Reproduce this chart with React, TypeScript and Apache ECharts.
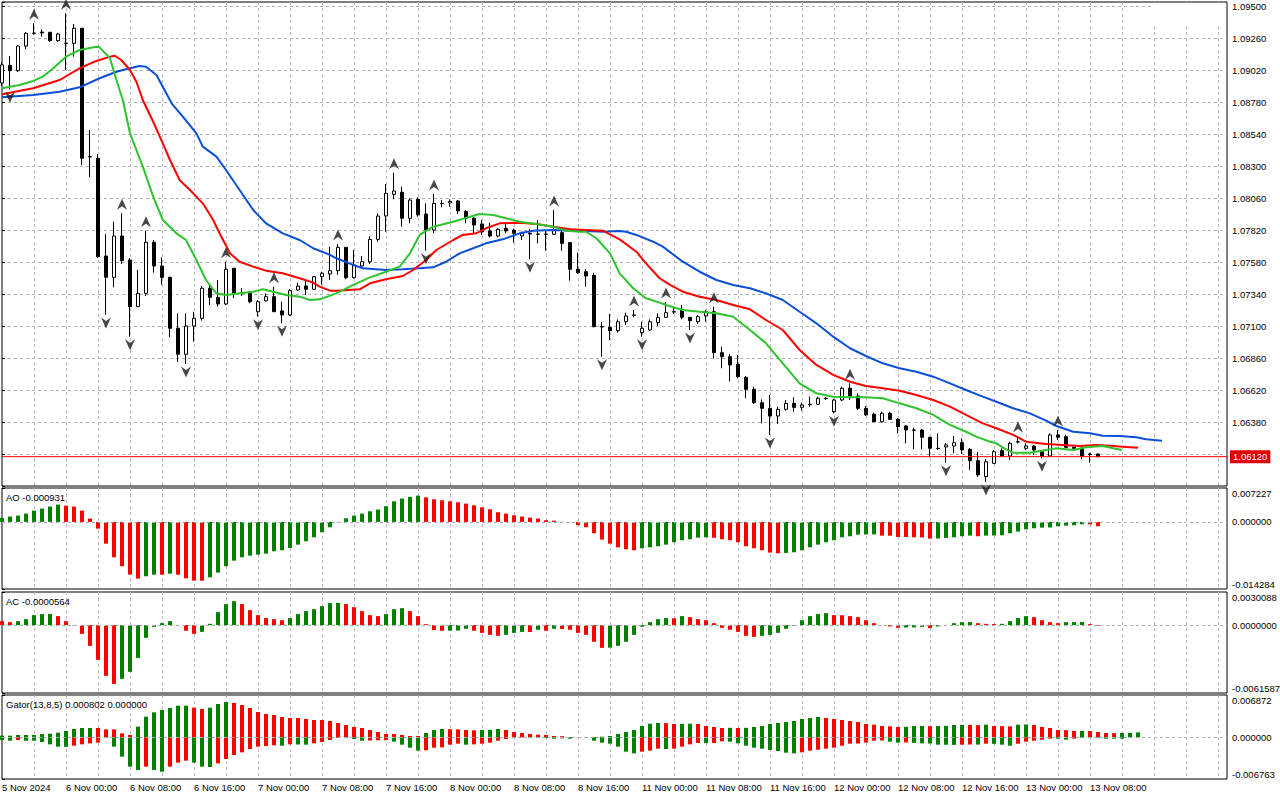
import React, { useEffect, useRef } from 'react';
import * as echarts from 'echarts';

// ---------- axes / scales ----------
const priceMin = 1.059;
const priceMax = 1.0953;
const priceStep = 0.0024;
const lastPrice = 1.0612;
const barMin = 0;
const barMax = 153.125;
const barGridStep = 4;

const timeTickPos = [0, 8, 16, 24, 32, 40, 48, 56, 64, 72, 80, 88, 96, 104, 112, 120, 128, 136];
const timeTickLabels = [
  '5 Nov 2024', '6 Nov 00:00', '6 Nov 08:00', '6 Nov 16:00', '7 Nov 00:00', '7 Nov 08:00',
  '7 Nov 16:00', '8 Nov 00:00', '8 Nov 08:00', '8 Nov 16:00', '11 Nov 00:00', '11 Nov 08:00',
  '11 Nov 16:00', '12 Nov 00:00', '12 Nov 08:00', '12 Nov 16:00', '13 Nov 00:00', '13 Nov 08:00',
];

const aoRange = [-0.014284, 0.007227];
const acRange = [-0.0061587, 0.0030088];
const gatorRange = [-0.006763, 0.006872];

// ---------- candles (EURUSD H1) ----------
const opens = [
  1.08923, 1.09055, 1.09015, 1.092, 1.09295, 1.09305, 1.09303, 1.0924, 1.0922, 1.0922,
  1.09333, 1.0837, 1.08358, 1.07625, 1.07465, 1.07775, 1.07595, 1.07245, 1.07345, 1.07728,
  1.0755, 1.07465, 1.07083, 1.06888, 1.071, 1.07158, 1.07383, 1.07315, 1.07265, 1.07533,
  1.0735, 1.07345, 1.07207, 1.07288, 1.0732, 1.07213, 1.07183, 1.0737, 1.074, 1.07375,
  1.0747, 1.0749, 1.07515, 1.0769, 1.07462, 1.0755, 1.07582, 1.0775, 1.07925, 1.08088,
  1.08103, 1.07908, 1.0805, 1.0794, 1.0782, 1.0802, 1.08023, 1.08038, 1.07958, 1.07908,
  1.07865, 1.07813, 1.07775, 1.07833, 1.0782, 1.07775, 1.07795, 1.0779, 1.0779, 1.07788,
  1.078, 1.07725, 1.07525, 1.07507, 1.0748, 1.07095, 1.0709, 1.07065, 1.07132, 1.0718,
  1.0705, 1.0707, 1.07125, 1.07165, 1.07205, 1.0722, 1.07165, 1.07132, 1.07175, 1.07207,
  1.069, 1.0687, 1.06813, 1.06715, 1.06625, 1.06525, 1.06483, 1.06425, 1.06475, 1.0652,
  1.0649, 1.06513, 1.06513, 1.06558, 1.06457, 1.06545, 1.06633, 1.06575, 1.06483, 1.06438,
  1.06382, 1.06445, 1.064, 1.0635, 1.0632, 1.0632, 1.06265, 1.06183, 1.06193, 1.062,
  1.06225, 1.06175, 1.0609, 1.0597, 1.0607, 1.06165, 1.06125, 1.0623, 1.06183, 1.062,
  1.06157, 1.06125, 1.06283, 1.0627, 1.0619, 1.06183, 1.0614, 1.0614,
];
const closes = [
  1.09058, 1.09015, 1.092, 1.09295, 1.09297, 1.09298, 1.0924, 1.0929, 1.09222, 1.09333,
  1.08358, 1.08368, 1.0762, 1.07465, 1.07775, 1.0759, 1.07245, 1.07345, 1.07728, 1.0755,
  1.07465, 1.07083, 1.06888, 1.071, 1.07158, 1.07383, 1.07315, 1.07265, 1.07525, 1.07345,
  1.07345, 1.07282, 1.07282, 1.0732, 1.07207, 1.07183, 1.07365, 1.074, 1.07375, 1.0747,
  1.07495, 1.07515, 1.0769, 1.07462, 1.07558, 1.07582, 1.0775, 1.07925, 1.08095, 1.08113,
  1.07908, 1.08045, 1.07933, 1.0782, 1.0802, 1.08018, 1.08033, 1.07963, 1.07908, 1.07858,
  1.07807, 1.07775, 1.07825, 1.07813, 1.07795, 1.07795, 1.0779, 1.07788, 1.07788, 1.0782,
  1.0772, 1.07525, 1.075, 1.07475, 1.07095, 1.07093, 1.07065, 1.07132, 1.07175, 1.07183,
  1.07083, 1.07132, 1.07165, 1.072, 1.07207, 1.07165, 1.0714, 1.0717, 1.07207, 1.069,
  1.0687, 1.06808, 1.0672, 1.06625, 1.06525, 1.06483, 1.06425, 1.06475, 1.0652, 1.0649,
  1.06508, 1.0651, 1.06558, 1.06556, 1.06545, 1.06633, 1.06575, 1.06483, 1.06433, 1.06382,
  1.06445, 1.064, 1.06345, 1.0632, 1.06318, 1.06265, 1.06183, 1.06181, 1.06208, 1.06225,
  1.0617, 1.0609, 1.05983, 1.06082, 1.06157, 1.06125, 1.0622, 1.06232, 1.062, 1.0617,
  1.06125, 1.06283, 1.06265, 1.0619, 1.06183, 1.06125, 1.06135, 1.0612,
];
const highs = [
  1.0908, 1.09125, 1.09208, 1.09305, 1.0937, 1.09325, 1.09305, 1.09298, 1.09445, 1.09365,
  1.09335, 1.0857, 1.0839, 1.0779, 1.07882, 1.07945, 1.0761, 1.0752, 1.07815, 1.07745,
  1.07615, 1.0747, 1.07195, 1.07195, 1.07207, 1.074, 1.07408, 1.07445, 1.07582, 1.07535,
  1.07383, 1.07363, 1.07295, 1.07345, 1.07395, 1.07282, 1.07378, 1.07425, 1.0745, 1.07475,
  1.07507, 1.07695, 1.07715, 1.07693, 1.0767, 1.07625, 1.07775, 1.07945, 1.08165, 1.0825,
  1.08145, 1.08058, 1.08065, 1.0802, 1.0809, 1.08045, 1.0805, 1.08045, 1.0797, 1.07918,
  1.07895, 1.07875, 1.07833, 1.07865, 1.0783, 1.07808, 1.07825, 1.07895, 1.0782, 1.0797,
  1.07828, 1.0773, 1.0765, 1.07525, 1.075, 1.07132, 1.0719, 1.0715, 1.072, 1.0722,
  1.07132, 1.0715, 1.07195, 1.0728, 1.0724, 1.07258, 1.07168, 1.07183, 1.0722, 1.07245,
  1.06945, 1.0689, 1.06883, 1.06725, 1.06645, 1.0655, 1.06583, 1.06495, 1.06545, 1.06565,
  1.06525, 1.0657, 1.0657, 1.06568, 1.06553, 1.06645, 1.0667, 1.06595, 1.065, 1.0645,
  1.06457, 1.06457, 1.0641, 1.06358, 1.06337, 1.06328, 1.0627, 1.06295, 1.06223, 1.06275,
  1.06258, 1.06185, 1.06157, 1.06103, 1.0617, 1.06183, 1.06232, 1.06275, 1.0622, 1.06208,
  1.0617, 1.06295, 1.0632, 1.06283, 1.06195, 1.062, 1.0615, 1.06145,
];
const lows = [
  1.089, 1.08875, 1.09005, 1.09175, 1.09285, 1.0927, 1.0923, 1.0923, 1.0902, 1.0912,
  1.08308, 1.08215, 1.0761, 1.07183, 1.0739, 1.07565, 1.0702, 1.07243, 1.07325, 1.075,
  1.0741, 1.07015, 1.0683, 1.06815, 1.06982, 1.0714, 1.07258, 1.07245, 1.07258, 1.0731,
  1.07325, 1.0727, 1.0717, 1.07284, 1.07205, 1.0712, 1.07175, 1.07363, 1.07333, 1.0737,
  1.0741, 1.07445, 1.07483, 1.0745, 1.07458, 1.07545, 1.07565, 1.07732, 1.07807, 1.0805,
  1.07845, 1.0787, 1.0792, 1.07665, 1.07795, 1.0799, 1.07995, 1.0794, 1.0787, 1.07795,
  1.07783, 1.07765, 1.07765, 1.07795, 1.07725, 1.07745, 1.076, 1.0772, 1.07665, 1.07785,
  1.07665, 1.0744, 1.0749, 1.07395, 1.0709, 1.0687, 1.06995, 1.0705, 1.07108, 1.07165,
  1.0702, 1.07063, 1.071, 1.0716, 1.0719, 1.0715, 1.0707, 1.07115, 1.07132, 1.06858,
  1.06783, 1.06683, 1.06708, 1.06558, 1.06515, 1.0637, 1.06283, 1.06365, 1.06465, 1.06457,
  1.06465, 1.06495, 1.06508, 1.06545, 1.06445, 1.06538, 1.06545, 1.0647, 1.06425, 1.0638,
  1.06375, 1.06395, 1.06295, 1.0622, 1.06175, 1.06175, 1.06115, 1.0617, 1.06075, 1.06145,
  1.0614, 1.0602, 1.05968, 1.0593, 1.06065, 1.06118, 1.06095, 1.0622, 1.0617, 1.06133,
  1.06108, 1.0612, 1.06245, 1.06185, 1.0617, 1.061, 1.06075, 1.06115,
];

// ---------- Bill Williams fractals (bar indices) ----------
const fractalUp = [4, 8, 15, 18, 28, 34, 42, 49, 54, 69, 79, 83, 89, 106, 127, 132];
const fractalDown = [1, 13, 16, 23, 32, 35, 53, 66, 75, 80, 86, 96, 104, 118, 123, 130];

// ---------- Alligator lines [bar position, price] ----------
const jawLine = [
  [0, 1.08815], [3.9, 1.08833], [7.2, 1.08857], [9.7, 1.0889], [12.2, 1.08958], [14.3, 1.09007],
  [16.0, 1.09033], [17.2, 1.0905], [18.0, 1.09045], [19.3, 1.08983], [20.1, 1.08895], [21.2, 1.0877],
  [22.6, 1.0867], [24.3, 1.08545], [25.1, 1.08445], [26.8, 1.0837], [28.0, 1.0827], [29.7, 1.0812],
  [31.4, 1.0797], [33.0, 1.0787], [35.1, 1.07795], [37.2, 1.07745], [38.9, 1.07683], [41.0, 1.07633],
  [41.8, 1.07608], [43.9, 1.07558], [45.1, 1.07533], [48.0, 1.0752], [50.1, 1.07525], [52.2, 1.07533],
  [53.9, 1.0754], [55.5, 1.07582], [57.2, 1.07645], [58.9, 1.07683], [60.5, 1.0772], [62.6, 1.0775],
  [64.7, 1.07795], [66.4, 1.07815], [68.9, 1.0782], [71.0, 1.07815], [73.0, 1.07813], [75.1, 1.07807],
  [77.2, 1.07813], [78.0, 1.07807], [79.3, 1.07783], [81.4, 1.07732], [82.6, 1.07695], [85.1, 1.07582],
  [87.2, 1.07507], [89.3, 1.07445], [91.4, 1.07408], [93.5, 1.07383], [95.5, 1.07345], [97.6, 1.07295],
  [99.7, 1.07207], [101.8, 1.0712], [103.9, 1.0702], [106.0, 1.06933], [108.0, 1.06875], [110.1, 1.0682],
  [112.2, 1.06783], [114.3, 1.06757], [116.4, 1.0672], [118.5, 1.0667], [120.5, 1.0662], [122.6, 1.0657],
  [124.3, 1.06532], [126.4, 1.06483], [128.5, 1.06445], [130.5, 1.0639], [131.8, 1.0635], [133.9, 1.06307],
  [136.0, 1.06295], [137.6, 1.06277], [139.7, 1.06275], [141.8, 1.06265], [143.0, 1.0625], [145.0, 1.0624],
];
const teethLine = [
  [0, 1.08838], [3.9, 1.08883], [7.2, 1.08945], [9.7, 1.09033], [11.8, 1.09088], [13.5, 1.0912],
  [14.1, 1.09127], [14.9, 1.09095], [16.0, 1.0902], [16.8, 1.08932], [17.6, 1.08795], [18.9, 1.08632],
  [20.1, 1.0847], [21.0, 1.08345], [22.2, 1.08195], [23.9, 1.08095], [25.1, 1.0802], [26.4, 1.07895],
  [27.2, 1.07795], [28.5, 1.07645], [29.7, 1.07582], [31.4, 1.07545], [33.0, 1.07515], [35.1, 1.07495],
  [37.2, 1.07458], [38.9, 1.07425], [39.7, 1.07395], [41.0, 1.07365], [41.8, 1.07365], [44.7, 1.07375],
  [46.0, 1.0742], [48.0, 1.0745], [50.1, 1.07475], [51.4, 1.0752], [53.0, 1.07595], [54.3, 1.0767],
  [56.4, 1.07745], [57.6, 1.07783], [59.3, 1.07795], [60.5, 1.07833], [62.2, 1.0787], [64.7, 1.07875],
  [66.8, 1.07865], [68.9, 1.07845], [71.0, 1.07825], [73.0, 1.0782], [75.1, 1.07815], [77.2, 1.0775],
  [79.3, 1.07657], [80.5, 1.0757], [82.2, 1.07458], [83.5, 1.07408], [85.1, 1.07357], [87.2, 1.0732],
  [89.3, 1.07295], [91.4, 1.07258], [93.5, 1.07225], [95.5, 1.07145], [97.6, 1.0707], [99.7, 1.0692],
  [101.8, 1.06808], [103.9, 1.06733], [106.0, 1.06682], [108.0, 1.0665], [110.1, 1.06633], [112.2, 1.06615],
  [114.3, 1.06583], [116.4, 1.06545], [118.5, 1.06495], [120.5, 1.06433], [122.6, 1.0637], [124.3, 1.06333],
  [126.4, 1.06283], [128.0, 1.06232], [130.5, 1.06215], [132.6, 1.06208], [134.7, 1.062], [136.8, 1.06208],
  [138.9, 1.062], [140.1, 1.06195], [142.0, 1.06187],
];
const lipsLine = [
  [0, 1.08883], [2.2, 1.08908], [3.9, 1.08938], [5.1, 1.0897], [6.4, 1.09033], [8.0, 1.0912],
  [9.7, 1.0917], [11.8, 1.09195], [12.2, 1.0919], [13.5, 1.09108], [14.3, 1.08945], [15.1, 1.08795],
  [16.0, 1.08545], [16.8, 1.0842], [17.6, 1.08295], [18.9, 1.0807], [20.1, 1.07895], [21.8, 1.07795],
  [23.0, 1.07745], [24.3, 1.07595], [25.5, 1.07445], [26.8, 1.07345], [28.0, 1.07333], [29.7, 1.07345],
  [31.4, 1.07357], [32.6, 1.07375], [33.9, 1.07357], [35.5, 1.07333], [37.2, 1.0732], [38.5, 1.07295],
  [39.7, 1.073], [41.8, 1.07345], [43.9, 1.07408], [46.0, 1.07465], [48.0, 1.07507], [49.7, 1.07545],
  [51.0, 1.07645], [52.2, 1.07783], [53.9, 1.07845], [56.4, 1.07882], [58.5, 1.0792], [59.7, 1.0794],
  [61.4, 1.07933], [63.0, 1.07908], [64.7, 1.07882], [66.8, 1.07865], [68.9, 1.07845], [70.5, 1.07815],
  [72.2, 1.07807], [73.0, 1.07807], [74.3, 1.07758], [76.0, 1.07645], [77.2, 1.07495], [78.9, 1.07383],
  [80.5, 1.07308], [82.2, 1.07275], [83.0, 1.07258], [85.1, 1.0722], [87.2, 1.07207], [89.3, 1.07195],
  [91.4, 1.0717], [93.5, 1.0707], [95.5, 1.0697], [97.6, 1.0682], [99.7, 1.0667], [101.8, 1.06595],
  [103.9, 1.0657], [106.0, 1.06565], [108.0, 1.06565], [110.1, 1.06558], [112.2, 1.0652], [114.3, 1.06483],
  [116.4, 1.06433], [118.5, 1.06358], [120.5, 1.06307], [121.8, 1.0627], [123.5, 1.06232], [124.3, 1.0622],
  [125.5, 1.06175], [126.4, 1.0615], [128.5, 1.0615], [130.5, 1.0617], [131.8, 1.06183], [133.9, 1.0617],
  [135.5, 1.0619], [137.6, 1.062], [138.9, 1.06183], [140.0, 1.0617],
];

// ---------- Awesome Oscillator ----------
const aoValues = [
  0.00085, 0.00114, 0.00135, 0.00178, 0.00241, 0.00284, 0.00327, 0.00369, 0.00348, 0.00327,
  0.00241, 0.00071, -0.00142, -0.00462, -0.00753, -0.00944, -0.01122, -0.01207, -0.01157, -0.01122,
  -0.01125, -0.01101, -0.01125, -0.012, -0.0125, -0.01252, -0.01179, -0.01079, -0.00944, -0.00824,
  -0.00753, -0.00717, -0.00696, -0.00675, -0.00625, -0.00604, -0.00554, -0.00483, -0.00412, -0.00327,
  -0.0022, -0.00114, -0.00007, 0.00078, 0.00135, 0.00178, 0.00227, 0.00263, 0.00334, 0.0044,
  0.00497, 0.00533, 0.00561, 0.00525, 0.00483, 0.00462, 0.0044, 0.00419, 0.0039, 0.00355,
  0.00312, 0.0027, 0.00206, 0.00178, 0.00142, 0.00114, 0.00092, 0.00071, 0.00036, 0.00028,
  0.00003, -0.00003, -0.00071, -0.00114, -0.00241, -0.00376, -0.00462, -0.0054, -0.00582, -0.00604,
  -0.00561, -0.0054, -0.00518, -0.00483, -0.00433, -0.0039, -0.00369, -0.00334, -0.00327, -0.00337,
  -0.00369, -0.0039, -0.00433, -0.00518, -0.00561, -0.00604, -0.00653, -0.00667, -0.0066, -0.00646,
  -0.00604, -0.0054, -0.00483, -0.00433, -0.0039, -0.00327, -0.00305, -0.0027, -0.00268, -0.00266,
  -0.00291, -0.00293, -0.0032, -0.00322, -0.00327, -0.0033, -0.00355, -0.00353, -0.00341, -0.00327,
  -0.00305, -0.00291, -0.00305, -0.00291, -0.00289, -0.00284, -0.00241, -0.00206, -0.00156, -0.00135,
  -0.00121, -0.00118, -0.00092, -0.00078, -0.00071, -0.0005, -0.00052, -0.000931,
];
const aoColors =
  'ggggggggrr' + 'rrrrrrrrgg' + 'rgrrrrgggg' + 'gggggggggg' + 'gggggggggg' + 'gggrrrrrrr' + 'rrrrrrrrrr' +
  'rrrrrrrrrr' + 'gggggggggr' + 'rrrrrrrrgg' + 'gggggggggg' + 'rrrrrrrggg' + 'ggrggggggg' + 'ggggggrr';

// ---------- Accelerator Oscillator ----------
const acValues = [
  0.00036, 0.00027, 0.00036, 0.00054, 0.00091, 0.001, 0.00101, 0.00082, 0.00036, -0.00003,
  -0.00079, -0.00188, -0.00315, -0.0046, -0.00533, -0.00487, -0.00424, -0.00297, -0.00115, -0.00015,
  0.00018, 0.00036, -0.00002, -0.00051, -0.00079, -0.00061, 0.00012, 0.00118, 0.00191, 0.00218,
  0.00191, 0.00136, 0.00091, 0.00064, 0.00054, 0.00045, 0.00064, 0.001, 0.00127, 0.00145,
  0.00172, 0.002, 0.00201, 0.00191, 0.00163, 0.00127, 0.00091, 0.00082, 0.001, 0.00145,
  0.00154, 0.00127, 0.00082, 0.00009, -0.00045, -0.00051, -0.0005, -0.00049, -0.00033, -0.00051,
  -0.0007, -0.00088, -0.00097, -0.00088, -0.0007, -0.00061, -0.00062, -0.00042, -0.00051, -0.00033,
  -0.00034, -0.00042, -0.0007, -0.00088, -0.00151, -0.00206, -0.00204, -0.00188, -0.00151, -0.00088,
  -0.00015, 0.00027, 0.00054, 0.00064, 0.00062, 0.00082, 0.00073, 0.00054, 0.00045, 0.00018,
  -0.00024, -0.00042, -0.00061, -0.00097, -0.00106, -0.00097, -0.00088, -0.0007, -0.00033, -0.00006,
  0.00045, 0.00082, 0.001, 0.00109, 0.00091, 0.0009, 0.00082, 0.00073, 0.00045, 0.00018,
  -0.00002, -0.00012, -0.00024, -0.00021, -0.0002, -0.00015, -0.00027, -0.00012, 0.00001, 0.00018,
  0.00027, 0.00028, 0.00018, 0.00012, 0.0001, 0.00012, 0.00036, 0.00064, 0.00082, 0.00073,
  0.00045, 0.00027, 0.00018, 0.00027, 0.00028, 0.00029, 0.00009, -0.0000564,
];
const acColors =
  'rrgggggrrr' + 'rrrrrggggg' + 'ggrrrggggg' + 'rrrrrrgggg' + 'gggrrrrrgg' + 'grrrrrgggr' + 'rrrgggrgrg' +
  'rrrrrrgggg' + 'ggggrgrrrr' + 'rrrrrggggg' + 'ggggrrrrrr' + 'rrrgggrggg' + 'ggrrrggggr' + 'rrrgggrr';

// ---------- Gator Oscillator (upper = |jaw-teeth|, lower = |teeth-lips|) ----------
const gatorUp = [
  0.000271, 0.000271, 0.000379, 0.000379, 0.000379, 0.000541, 0.000595, 0.000757, 0.001028, 0.001353,
  0.001515, 0.001515, 0.001515, 0.001298, 0.001298, 0.000649, 0.000379, 0.001731, 0.003354, 0.004058,
  0.004436, 0.004761, 0.00514, 0.005145, 0.004815, 0.004599, 0.004815, 0.00541, 0.005735, 0.005572,
  0.005248, 0.004761, 0.004112, 0.003787, 0.003625, 0.0033, 0.003138, 0.003135, 0.002976, 0.002813,
  0.00281, 0.002651, 0.002326, 0.002002, 0.001677, 0.001515, 0.00119, 0.000866, 0.000541, 0.000538,
  0.000379, 0.000216, 0.000213, 0.000703, 0.00119, 0.001353, 0.001325, 0.001298, 0.00119, 0.001136,
  0.00119, 0.001217, 0.001353, 0.00119, 0.000866, 0.000703, 0.000541, 0.000433, 0.000379, 0.000216,
  0.000189, 0.000054, 0.000027, 0.000038, 0.000054, 0.000108, 0.000216, 0.000541, 0.000866, 0.00119,
  0.001839, 0.002218, 0.002326, 0.002299, 0.002164, 0.002191, 0.002218, 0.002164, 0.001839, 0.001677,
  0.001515, 0.001542, 0.001515, 0.001542, 0.001677, 0.001839, 0.002164, 0.002326, 0.002489, 0.002651,
  0.002976, 0.003138, 0.0033, 0.003138, 0.002976, 0.002813, 0.002651, 0.002489, 0.002164, 0.002056,
  0.001839, 0.001785, 0.001677, 0.001704, 0.001839, 0.00185, 0.001812, 0.001839, 0.001866, 0.002002,
  0.002029, 0.002002, 0.001975, 0.002056, 0.001839, 0.001812, 0.001785, 0.002056, 0.002083, 0.002002,
  0.001677, 0.001515, 0.00119, 0.001163, 0.001028, 0.001055, 0.001028, 0.000866, 0.000703, 0.000676,
  0.000703, 0.00073, 0.000802,
];
const gatorUpColors =
  'gggggggggg' + 'ggrrrrrggg' + 'ggggrrgggr' + 'rrrrrrrrrr' + 'rrrrrrrrrr' + 'rrrgggrrrr' + 'gggrrrrrrr' +
  'rrrggggggg' + 'gggrrggrrr' + 'rgrggggggg' + 'gggrrrrrrr' + 'rrrgggrggg' + 'grrgrrrggr' + 'rrrrrgrrrr' + 'ggg';
const gatorDown = [
  0.000433, 0.000541, 0.000433, 0.000541, 0.000545, 0.000757, 0.001136, 0.001515, 0.001542, 0.001353,
  0.001136, 0.000974, 0.000866, 0.000054, 0.001515, 0.003138, 0.004761, 0.005302, 0.004761, 0.005302,
  0.005572, 0.004761, 0.004112, 0.003787, 0.004112, 0.004761, 0.004815, 0.00422, 0.003517, 0.002867,
  0.002435, 0.001894, 0.001515, 0.001407, 0.001298, 0.001353, 0.001136, 0.001163, 0.00119, 0.000974,
  0.000757, 0.000433, 0.000108, 0.000054, 0.000271, 0.000541, 0.000514, 0.000487, 0.00046, 0.000703,
  0.00119, 0.001677, 0.002164, 0.00211, 0.001677, 0.001623, 0.00119, 0.001028, 0.00119, 0.001136,
  0.001028, 0.000866, 0.000541, 0.000271, 0.000054, 0.000027, 0.000038, 0.000054, 0.000108, 0.000216,
  0.000162, 0.000216, 0.000027, 0.000054, 0.000541, 0.000866, 0.001028, 0.001515, 0.002326, 0.002597,
  0.002326, 0.002164, 0.001839, 0.001894, 0.001839, 0.001515, 0.001136, 0.00092, 0.000947, 0.00092,
  0.000649, 0.000703, 0.000974, 0.001353, 0.001677, 0.001839, 0.002056, 0.002218, 0.002489, 0.002597,
  0.002435, 0.002164, 0.002002, 0.001839, 0.001677, 0.001353, 0.001028, 0.001001, 0.000866, 0.000541,
  0.000514, 0.000703, 0.000866, 0.000839, 0.000893, 0.000974, 0.001001, 0.00119, 0.001206, 0.001223,
  0.00119, 0.001163, 0.001179, 0.001028, 0.001055, 0.00119, 0.001353, 0.001028, 0.000703, 0.000541,
  0.000379, 0.000216, 0.000227, 0.000379, 0.000216, 0.000054, 0.000027, 0.000054, 0.000216, 0.000222,
  0.000227,
];
const gatorDownColors =
  'ggrggggggr' + 'rrrrggggrg' + 'grrrgggrrr' + 'rrrrrgrggr' + 'rrrrggrrrg' + 'gggrrrrrgr' + 'rrrrrrgggg' +
  'rgrggggggg' + 'rrrgrrrrgr' + 'rggggggggg' + 'rrrrrrrrrr' + 'rggrgggggg' + 'rrgrgggrrr' + 'rrggrrrggg' + 'g';

// ---------- styling ----------
const FONT = "'Liberation Sans', Arial, sans-serif";
const GREEN = '#008000';
const RED = '#ff0000';
const UP_ARROW = 'path://M5,0L10,11L5,7.5L0,11Z';
const DOWN_ARROW = 'path://M0,0L5,3.5L10,0L5,11Z';
const axisText = { color: '#000', fontSize: 9.5, fontFamily: FONT };
const hSplit = { show: true, showMinLine: false, showMaxLine: false, lineStyle: { color: '#a9b4a9', type: [3, 3], width: 1 } };
const vSplit = { show: true, showMinLine: false, showMaxLine: false, lineStyle: { color: '#c6b4c6', type: [3, 3], width: 1 } };

const PANEL_LEFT = 2;
const PANEL_WIDTH = 1225;
const panels = [
  { top: 2, height: 484 },
  { top: 488, height: 101 },
  { top: 592, height: 101 },
  { top: 695, height: 84 },
];

function colored(values: number[], colors: string, sign = 1) {
  return values.map((v, i) => ({
    value: [i, sign * v],
    itemStyle: { color: colors[i] === 'g' ? GREEN : RED },
  }));
}

const zeroLine = {
  silent: true,
  symbol: ['none', 'none'],
  data: [{ yAxis: 0 }],
  lineStyle: { color: '#a8b0bc', type: [3, 3], width: 1 },
  label: { show: false },
  animation: false,
};

function subAxis(gridIndex: number, range: number[], decimals: number) {
  const eps = 1e-9;
  return {
    type: 'value',
    gridIndex,
    position: 'right',
    min: range[0],
    max: range[1],
    interval: -range[0],
    axisLine: { show: false },
    axisTick: { show: true, length: 3, lineStyle: { color: '#000' } },
    splitLine: { show: false },
    axisLabel: {
      ...axisText,
      margin: 5,
      showMinLabel: true,
      showMaxLabel: true,
      formatter: (v: number) => {
        const s = v.toFixed(decimals);
        if (Math.abs(v - range[1]) < eps) return `{t|${s}}`;
        if (Math.abs(v - range[0]) < eps) return `{b|${s}}`;
        if (Math.abs(v) < eps) return (0).toFixed(decimals);
        return '';
      },
      rich: {
        t: { ...axisText, padding: [10, 0, 0, 0] },
        b: { ...axisText, padding: [0, 0, 10, 0] },
      },
    },
  };
}

function buildOption() {
  const grid = panels.map((p) => ({
    left: PANEL_LEFT,
    top: p.top,
    width: PANEL_WIDTH,
    height: p.height,
    show: true,
    borderColor: '#000',
    borderWidth: 1,
    backgroundColor: 'rgba(0,0,0,0)',
    containLabel: false,
    outerBoundsMode: 'none',
  }));

  const xAxis = panels.map((_, i) => ({
    type: 'value',
    gridIndex: i,
    min: barMin,
    max: barMax,
    interval: barGridStep,
    axisLine: { show: false },
    axisTick: { show: false },
    splitLine: vSplit,
    axisLabel:
      i === panels.length - 1
        ? {
            show: true,
            ...axisText,
            align: 'left',
            margin: 3,
            formatter: (v: number) => {
              const r = Math.round(v);
              if (Math.abs(v - r) > 1e-6) return '';
              const idx = timeTickPos.indexOf(r);
              return idx >= 0 ? timeTickLabels[idx] : '';
            },
          }
        : { show: false },
  }));

  const yAxis = [
    {
      type: 'value',
      gridIndex: 0,
      position: 'right',
      min: priceMin,
      max: priceMax,
      interval: priceStep,
      axisLine: { show: false },
      axisTick: { show: true, length: 3, lineStyle: { color: '#000' } },
      splitLine: hSplit,
      axisLabel: {
        ...axisText,
        margin: 5,
        formatter: (v: number) => {
          const steps = (v - priceMin) / priceStep;
          if (Math.abs(steps - Math.round(steps)) > 1e-3) return '';
          if (v < priceMin + priceStep / 2) return '';
          if (Math.abs(v - lastPrice) < priceStep / 4) return '';
          return v.toFixed(5);
        },
      },
    },
    subAxis(1, aoRange, 6),
    subAxis(2, acRange, 7),
    subAxis(3, gatorRange, 6),
  ];

  const series: any[] = [
    {
      type: 'candlestick',
      xAxisIndex: 0,
      yAxisIndex: 0,
      data: opens.map((o, i) => [i, o, closes[i], lows[i], highs[i]]),
      encode: { x: 0, y: [1, 2, 3, 4] },
      barWidth: 4,
      itemStyle: {
        color: '#ffffff',
        color0: '#000000',
        borderColor: '#000000',
        borderColor0: '#000000',
        borderColorDoji: '#000000',
        borderWidth: 1,
      },
      z: 2,
    },
    {
      // current bid line with its price tag
      type: 'line',
      xAxisIndex: 0,
      yAxisIndex: 0,
      data: [[barMin, lastPrice], [barMax, lastPrice]],
      showSymbol: false,
      clip: false,
      lineStyle: { color: '#ff0000', width: 1 },
      z: 3,
      endLabel: {
        show: true,
        distance: 3,
        formatter: () => lastPrice.toFixed(5),
        color: '#ffffff',
        backgroundColor: '#e00000',
        padding: [2, 3, 1, 3],
        fontSize: 9.5,
        fontFamily: FONT,
      },
    },
    {
      type: 'line',
      xAxisIndex: 0,
      yAxisIndex: 0,
      data: jawLine,
      showSymbol: false,
      lineStyle: { color: '#0b4fd9', width: 2 },
      z: 4,
    },
    {
      type: 'line',
      xAxisIndex: 0,
      yAxisIndex: 0,
      data: teethLine,
      showSymbol: false,
      lineStyle: { color: '#ff0000', width: 2 },
      z: 4,
    },
    {
      type: 'line',
      xAxisIndex: 0,
      yAxisIndex: 0,
      data: lipsLine,
      showSymbol: false,
      lineStyle: { color: '#2ec42e', width: 2 },
      z: 4,
    },
    {
      type: 'scatter',
      xAxisIndex: 0,
      yAxisIndex: 0,
      data: fractalUp.map((k) => [k, highs[k]]),
      symbol: UP_ARROW,
      symbolSize: [10, 11],
      symbolOffset: [0, -9],
      itemStyle: { color: '#1a1a1a' },
      z: 5,
    },
    {
      type: 'scatter',
      xAxisIndex: 0,
      yAxisIndex: 0,
      data: fractalDown.map((k) => [k, lows[k]]),
      symbol: DOWN_ARROW,
      symbolSize: [10, 11],
      symbolOffset: [0, 8],
      itemStyle: { color: '#1a1a1a' },
      z: 5,
    },
    {
      type: 'bar',
      xAxisIndex: 1,
      yAxisIndex: 1,
      barWidth: 4,
      data: colored(aoValues, aoColors),
      markLine: zeroLine,
    },
    {
      type: 'bar',
      xAxisIndex: 2,
      yAxisIndex: 2,
      barWidth: 4,
      data: colored(acValues, acColors),
      markLine: zeroLine,
    },
    {
      type: 'bar',
      xAxisIndex: 3,
      yAxisIndex: 3,
      barWidth: 4,
      stack: 'gator',
      data: colored(gatorUp, gatorUpColors),
      markLine: zeroLine,
    },
    {
      type: 'bar',
      xAxisIndex: 3,
      yAxisIndex: 3,
      barWidth: 4,
      stack: 'gator',
      data: colored(gatorDown, gatorDownColors, -1),
    },
  ];

  const label = (text: string, top: number) => ({
    type: 'text',
    left: 6,
    top,
    z: 10,
    style: { text, fill: '#000', fontSize: 9.5, fontFamily: FONT },
  });

  const graphic = [
    { type: 'rect', shape: { x: 1152, y: 3, width: 74, height: 22 }, style: { fill: '#ffffff' }, z: 1, silent: true },
    label(`AO ${aoValues[aoValues.length - 1].toFixed(6)}`, 492),
    label(`AC ${acValues[acValues.length - 1].toFixed(7)}`, 596),
    label(`Gator(13,8,5) ${gatorUp[gatorUp.length - 1].toFixed(6)} ${(0).toFixed(6)}`, 699),
  ];

  return {
    animation: false,
    backgroundColor: '#ffffff',
    grid,
    xAxis,
    yAxis,
    series,
    graphic,
  };
}

export default function App() {
  const ref = useRef<HTMLDivElement>(null);
  useEffect(() => {
    document.body.style.margin = '0';
    const chart = echarts.init(ref.current as HTMLDivElement, null, { renderer: 'svg', width: 1280, height: 800 });
    chart.setOption(buildOption() as any);
    return () => chart.dispose();
  }, []);
  return <div ref={ref} style={{ width: 1280, height: 800, background: '#fff' }} />;
}
